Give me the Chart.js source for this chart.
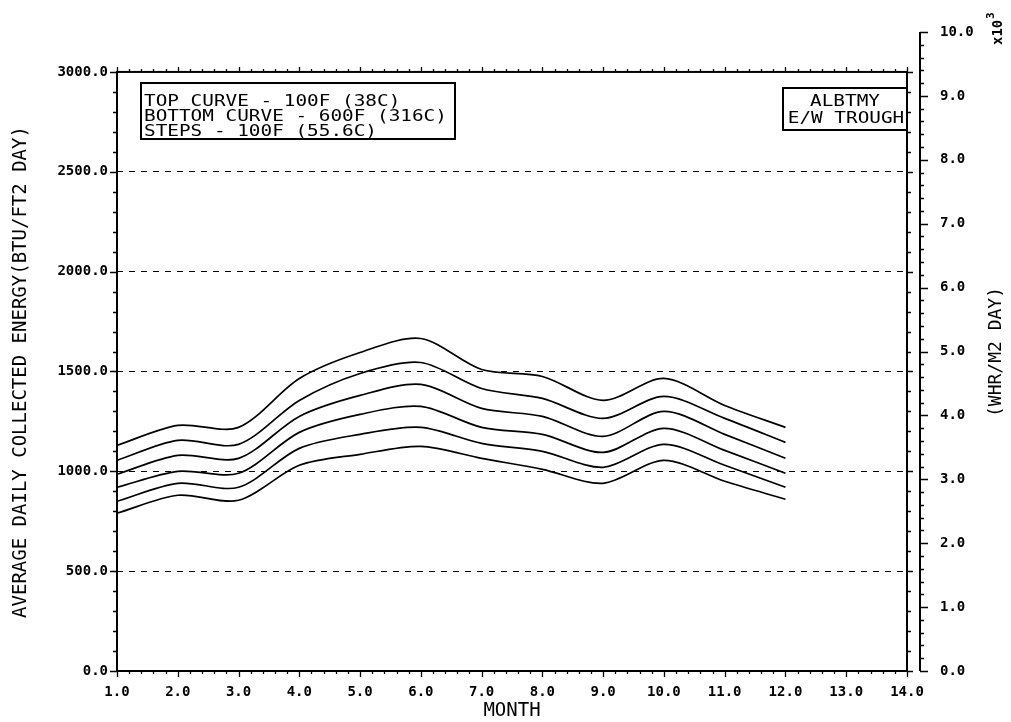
<!DOCTYPE html>
<html>
<head>
<meta charset="utf-8">
<script src="https://cdn.jsdelivr.net/npm/chart.js@4/dist/chart.umd.min.js"></script>
<style>
  html, body { margin:0; padding:0; background:#fff; }
  #wrap { width:1011px; height:722px; }
</style>
</head>
<body>
<div id="wrap"><canvas id="c" width="1011" height="722"></canvas></div>
<script>
// monthly collected energy, BTU/ft2 day, one curve per operating temperature
const months = [1,2,3,4,5,6,7,8,9,10,11,12];
const curve100F = [1130,1230,1220,1465,1595,1665,1510,1475,1355,1465,1330,1220];
const curve200F = [1055,1155,1135,1355,1490,1545,1415,1365,1265,1375,1265,1145];
const curve300F = [ 985,1080,1065,1275,1380,1435,1315,1275,1175,1300,1185,1065];
const curve400F = [ 920,1000, 990,1195,1285,1325,1220,1185,1095,1215,1105, 990];
const curve500F = [ 850, 940, 920,1115,1185,1220,1140,1100,1020,1135,1030, 920];
const curve600F = [ 790, 880, 855,1030,1085,1125,1065,1010, 940,1055, 950, 860];
const curves = [curve100F, curve200F, curve300F, curve400F, curve500F, curve600F];

const xTicks = [1,2,3,4,5,6,7,8,9,10,11,12,13,14];
const yLeftTicks = [0,500,1000,1500,2000,2500,3000];
const yRightTicks = [0,1,2,3,4,5,6,7,8,9,10];
const gridLines = [500,1000,1500,2000,2500];

const legendLines = ['TOP CURVE - 100F (38C)', 'BOTTOM CURVE - 600F (316C)', 'STEPS - 100F (55.6C)'];
const siteLines = ['ALBTMY', 'E/W TROUGH'];

const MONO = '"DejaVu Sans Mono", "Liberation Mono", monospace';

// stretched plotter-style text
function wideText(ctx, s, x, y, size, sx, align) {
  ctx.save();
  ctx.font = size + 'px ' + MONO;
  const w = ctx.measureText(s).width * sx;
  let x0 = x;
  if (align === 'center') x0 = x - w / 2;
  ctx.translate(x0, y);
  ctx.scale(sx, 1);
  ctx.textAlign = 'left';
  ctx.textBaseline = 'middle';
  ctx.fillText(s, 0, 0);
  ctx.restore();
}

const frame = {
  id: 'frame',
  afterDatasetsDraw(chart) {
    const ctx = chart.ctx;
    const xs = chart.scales.x, yl = chart.scales.y, yr = chart.scales.y2;
    const L = xs.getPixelForValue(1), R = xs.getPixelForValue(14);
    const B = yl.getPixelForValue(0), T = yl.getPixelForValue(3000);
    ctx.save();
    ctx.strokeStyle = '#000';
    ctx.fillStyle = '#000';
    ctx.lineWidth = 2;
    ctx.strokeRect(L, T, R - L, B - T);

    ctx.lineWidth = 1.3;
    ctx.beginPath();
    // x ticks every 0.2 month, bottom and top
    for (let i = 0; i <= 65; i++) {
      const v = 1 + i * 0.2;
      const px = Math.round(xs.getPixelForValue(v)) + 0.5;
      const major = i % 5 === 0;
      ctx.moveTo(px, B); ctx.lineTo(px, B + (major ? 6 : 3));
      ctx.moveTo(px, T); ctx.lineTo(px, T - (major ? 5 : 3));
    }
    // left / right frame ticks every 100
    for (let v = 0; v <= 3000; v += 100) {
      const py = Math.round(yl.getPixelForValue(v)) + 0.5;
      const major = v % 500 === 0;
      ctx.moveTo(L, py); ctx.lineTo(L - (major ? 7 : 4), py);
      ctx.moveTo(R, py); ctx.lineTo(R + (major ? 6 : 4), py);
    }
    ctx.stroke();

    // second axis, WHR/M2 DAY
    const AX = R + 13;
    ctx.lineWidth = 2;
    ctx.beginPath();
    ctx.moveTo(AX, yr.getPixelForValue(0));
    ctx.lineTo(AX, yr.getPixelForValue(10));
    ctx.stroke();
    ctx.lineWidth = 1.3;
    ctx.beginPath();
    for (let i = 0; i <= 50; i++) {
      const py = Math.round(yr.getPixelForValue(i * 0.2)) + 0.5;
      const major = i % 5 === 0;
      ctx.moveTo(AX, py); ctx.lineTo(AX + (major ? 8 : 4), py);
    }
    ctx.stroke();

    // axis titles
    ctx.save();
    ctx.translate(21, 372);
    ctx.rotate(-Math.PI / 2);
    ctx.font = '19px ' + MONO;
    ctx.textAlign = 'center';
    ctx.textBaseline = 'middle';
    ctx.fillText('AVERAGE DAILY COLLECTED ENERGY(BTU/FT2 DAY)', 0, 0);
    ctx.restore();

    ctx.save();
    ctx.translate(996, 352);
    ctx.rotate(-Math.PI / 2);
    ctx.font = '18px ' + MONO;
    ctx.textAlign = 'center';
    ctx.textBaseline = 'middle';
    ctx.fillText('(WHR/M2 DAY)', 0, 0);
    ctx.restore();

    ctx.save();
    ctx.translate(998, 45);
    ctx.rotate(-Math.PI / 2);
    ctx.font = 'bold 14px ' + MONO;
    ctx.textAlign = 'left';
    ctx.textBaseline = 'middle';
    ctx.fillText('x10', 0, 0);
    ctx.font = 'bold 11px ' + MONO;
    ctx.fillText('3', 26, -7);
    ctx.restore();

    // legend box
    ctx.lineWidth = 2;
    ctx.strokeRect(141, 83, 314, 56);
    legendLines.forEach((s, i) => wideText(ctx, s, 144, 102 + i * 15, 15, 1.29, 'left'));

    // site box
    ctx.strokeRect(783, 88, R - 783, 42);
    wideText(ctx, siteLines[0], 845, 102, 15, 1.29, 'center');
    wideText(ctx, siteLines[1], 846, 119, 15, 1.29, 'center');
    ctx.restore();
  }
};

const datasets = curves.map(c => ({
  data: months.map((m, i) => ({ x: m, y: c[i] })),
  borderColor: '#000',
  borderWidth: 1.7,
  pointRadius: 0,
  tension: 0.3,
  fill: false,
  yAxisID: 'y'
}));

const tickFont = { family: MONO, size: 14, weight: 'bold' };

// fixed axis sizes, no label overhang padding
const fitY = w => s => { s.width = w; s.paddingTop = 0; s.paddingBottom = 0; };

new Chart(document.getElementById('c').getContext('2d'), {
  type: 'line',
  data: { datasets: datasets },
  options: {
    responsive: false,
    animation: false,
    layout: { padding: { top: 32, left: 0, right: 0, bottom: 0 } },
    plugins: { legend: { display: false }, tooltip: { enabled: false } },
    scales: {
      x: {
        type: 'linear', min: 1, max: 14,
        afterBuildTicks: s => { s.ticks = xTicks.map(v => ({ value: v })); },
        afterFit: s => { s.height = 51; s.paddingLeft = 0; s.paddingRight = 0; },
        grid: { display: false, drawTicks: false },
        border: { display: false },
        ticks: { padding: 13, color: '#000', font: tickFont, callback: v => v.toFixed(1) },
        title: {
          display: true, text: 'MONTH', color: '#000',
          font: { family: MONO, size: 19 }, padding: { top: 1, bottom: 0 }
        }
      },
      y: {
        type: 'linear', position: 'left', min: 0, max: 3200,
        afterBuildTicks: s => { s.ticks = yLeftTicks.map(v => ({ value: v })); },
        afterFit: fitY(117),
        grid: {
          drawTicks: false, lineWidth: 1,
          color: c => gridLines.includes(c.tick && c.tick.value) ? '#000' : 'rgba(0,0,0,0)'
        },
        border: { display: false, dash: [6, 6] },
        ticks: { padding: 9, color: '#000', font: tickFont, callback: v => v.toFixed(1) }
      },
      y2: {
        type: 'linear', position: 'right', min: 0, max: 10,
        afterBuildTicks: s => { s.ticks = yRightTicks.map(v => ({ value: v })); },
        afterFit: fitY(104),
        grid: { display: false, drawTicks: false },
        border: { display: false },
        ticks: { padding: 33, color: '#000', font: tickFont, callback: v => v.toFixed(1) }
      }
    }
  },
  plugins: [frame]
});
</script>
</body>
</html>
